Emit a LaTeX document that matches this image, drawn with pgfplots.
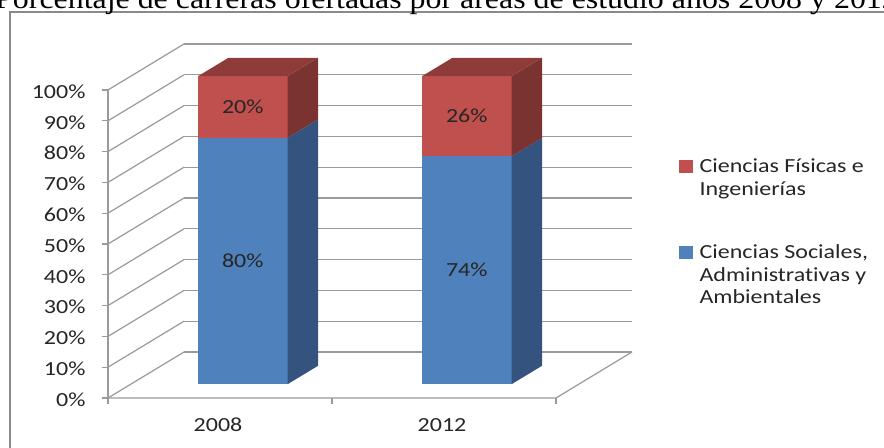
\documentclass[border=0pt]{standalone}
\usepackage{fontspec}
\setmainfont{Carlito}[FakeStretch=1.2, Ligatures={NoCommon}]
\newfontfamily\titlefont{Liberation Serif}[FakeStretch=1.1]
\usepackage{pgfplots}
\pgfplotsset{compat=1.18}
\definecolor{bluefront}{HTML}{4F81BD}
\definecolor{blueside}{HTML}{34547F}
\definecolor{redfront}{HTML}{C0504D}
\definecolor{redside}{HTML}{7B3331}
\definecolor{redtop}{HTML}{8E3B39}
\definecolor{gridc}{HTML}{9A9A9A}
\definecolor{borderc}{HTML}{8A8A8A}
% cuboid segment: x0, x1, z0 (bottom value), z1 (top value), front, side, top colours
\newcommand{\cuboid}[7]{%
  \addplot3[fill=#5, draw=none, forget plot] coordinates {(#1,0.3,#3) (#2,0.3,#3) (#2,0.3,#4) (#1,0.3,#4)} -- cycle;
  \addplot3[fill=#6, draw=none, forget plot] coordinates {(#2,0.3,#3) (#2,0.7,#3) (#2,0.7,#4) (#2,0.3,#4)} -- cycle;
  \addplot3[fill=#7, draw=none, forget plot] coordinates {(#1,0.3,#4) (#2,0.3,#4) (#2,0.7,#4) (#1,0.7,#4)} -- cycle;
}
\begin{document}
\begin{tikzpicture}
\useasboundingbox (-220bp,-50bp) rectangle (664bp,398bp);
\clip (-220bp,-50bp) rectangle (664bp,398bp);
\fill[white] (-220bp,-50bp) rectangle (664bp,398bp);
\draw[borderc, line width=2bp] (-210bp,-120bp) -- (-210bp,386bp) -- (720bp,386bp);
\node[anchor=base east, inner sep=0pt, font=\titlefont\fontsize{29bp}{29bp}\selectfont] at (678bp,389.5bp)
  {Porcentaje de carreras ofertadas por áreas de estudio años 2008 y 2012};
\begin{axis}[
  anchor=origin, at={(0,0)},
  x={(224bp,0bp)}, y={(76bp,46bp)}, z={(0bp,3.08bp)},
  xmin=-0.5, xmax=1.5, ymin=0, ymax=1, zmin=0, zmax=100,
  axis line style={draw=none},
  clip=false,
  xtick={0,1}, xticklabels={2008,2012},
  ytick=\empty,
  ztick={0,10,20,30,40,50,60,70,80,90,100},
  zticklabels={0\%,10\%,20\%,30\%,40\%,50\%,60\%,70\%,80\%,90\%,100\%},
  major tick length=0pt,
  zmajorgrids=true, xmajorgrids=false, ymajorgrids=false,
  grid style={gridc, line width=1.2bp},
  tick label style={font=\fontsize{20bp}{22.5bp}\selectfont, text=black!85},
  xticklabel style={anchor=center, yshift=-27bp, xshift=-2bp},
  zticklabel style={anchor=east, xshift=-19bp, yshift=-1.5bp},
  legend style={at={(axis cs:2.049,0,78.25)}, anchor=north west, draw=none, fill=none,
    inner sep=0pt, row sep=44bp, column sep=5bp,
    font=\fontsize{20bp}{22.5bp}\selectfont, text=black!85,
    cells={align=left, anchor=west, inner sep=0pt}},
]
\addlegendimage{legend image code/.code={\fill[redfront] (0bp,6bp) rectangle (13bp,18bp);}}
\addlegendentry{Ciencias Físicas e\\Ingenierías}
\addlegendimage{legend image code/.code={\fill[bluefront] (0bp,16.5bp) rectangle (13bp,28.5bp);}}
\addlegendentry{Ciencias Sociales,\\Administrativas y\\Ambientales}
% visible frame lines and ticks
\draw[gridc, line width=1.2bp] (axis cs:-0.5,0,0) -- (axis cs:-0.5,0,100);
\draw[gridc, line width=1.2bp] (axis cs:-0.5,0,0) -- (axis cs:1.5,0,0) -- (axis cs:1.5,1,0);
\pgfplotsinvokeforeach{0,10,...,100}{\draw[gridc, line width=1.2bp] (axis cs:-0.5,0,#1) -- ++(-6bp,0bp);}
\pgfplotsinvokeforeach{-0.5,0.5,1.5}{\draw[gridc, line width=1.2bp] (axis cs:#1,0,0) -- ++(0bp,-6bp);}
% 2008: 80% + 20%
\cuboid{-0.2}{0.2}{0}{80}{bluefront}{blueside}{bluefront}
\cuboid{-0.2}{0.2}{80}{100}{redfront}{redside}{redtop}
% 2012: 74% + 26%
\cuboid{0.8}{1.2}{0}{74}{bluefront}{blueside}{bluefront}
\cuboid{0.8}{1.2}{74}{100}{redfront}{redside}{redtop}
% data labels
\addplot3[draw=none, forget plot, nodes near coords, point meta=explicit symbolic,
  every node near coord/.append style={anchor=center, font=\fontsize{20bp}{22.5bp}\selectfont, text=black!85}]
  coordinates {(0,0.3,40) [80\%] (0,0.3,90) [20\%] (1,0.3,37) [74\%] (1,0.3,87) [26\%]};
\end{axis}
\end{tikzpicture}
\end{document}
